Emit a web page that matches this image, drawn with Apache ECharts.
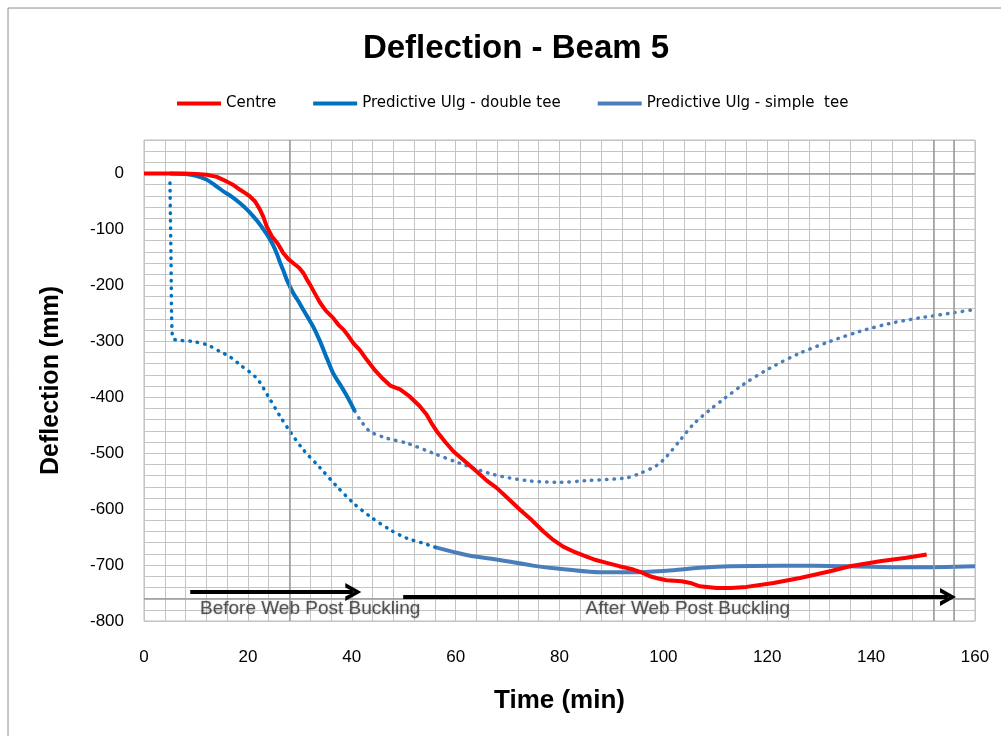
<!DOCTYPE html>
<html><head><meta charset="utf-8">
<script src="https://cdn.jsdelivr.net/npm/echarts@6/dist/echarts.min.js"></script>
<style>html,body{margin:0;padding:0;background:#fff}#c{width:1001px;height:736px}</style>
</head><body><div id="c"></div>
<script>
// ---- data (time in min, deflection in mm) ----
const centre = [[0,0],[7.6,0],[10,-1],[12.1,-2],[14,-6],[15.9,-14],[17.3,-21],[18.5,-29],[19.5,-35],[20.4,-41],[21.4,-50],[22.3,-64],[23.0,-78],[23.6,-94],[24.6,-112],[25.8,-126],[26.8,-142],[27.8,-153],[28.7,-160],[29.8,-168],[30.7,-178],[31.4,-190],[32.0,-199],[33.0,-216],[33.9,-231],[35.0,-245],[36.4,-258],[37.4,-270],[38.4,-279],[39.4,-291],[40.3,-303],[41.6,-316],[42.9,-333],[44.5,-352],[46.0,-367],[47.4,-379],[49.3,-386],[51.2,-399],[53.1,-416],[54.4,-431],[55.4,-447],[56.4,-461],[58.0,-480],[59.6,-497],[62.0,-516],[64.1,-533],[66.0,-549],[67.9,-562],[70.0,-580],[72.4,-601],[74.7,-620],[76.9,-640],[78.8,-655],[80.7,-667],[83.0,-677],[85.2,-685],[87.0,-691],[89.1,-696],[91.5,-702],[94.2,-708],[95.8,-713],[97.4,-720],[99.0,-724],[100.6,-727],[103.5,-729],[105.2,-732],[107.0,-738],[110.3,-741],[113.0,-741],[116.0,-739],[121.2,-732],[126.3,-723],[132.1,-711],[135.9,-702],[141.7,-693],[146.8,-687],[150.7,-681]];
const doubleTee = [[5,0],[8,-1],[10,-4],[12.1,-11],[13.7,-21],[15.3,-32],[17,-42],[18.5,-53],[19.8,-64],[21.0,-76],[22.0,-87],[23.0,-100],[24.0,-114],[24.9,-129],[25.6,-144],[26.2,-159],[26.9,-175],[27.5,-190],[28.7,-213],[29.7,-228],[30.7,-244],[31.6,-258],[32.6,-274],[33.9,-300],[35.2,-330],[36.4,-357],[37.4,-372],[38.4,-387],[39.5,-405],[40.6,-425]];
const doubleTeeDotted = [[40.6,-425],[41.6,-440],[43.5,-461],[46.7,-473],[50.6,-482],[55.7,-500],[60.8,-518],[67.3,-538],[73.7,-549],[80.1,-552],[85.2,-549],[92.9,-544],[95.5,-536],[98.7,-522],[100.6,-506],[103.2,-477],[105.8,-448],[109.0,-422],[111.5,-404],[115.4,-377],[120.5,-348],[126.3,-321],[132.1,-300],[137.9,-282],[143.6,-268],[149.4,-258],[155.8,-249],[160,-243]];
const simpleTeeDotted = [[5,-17],[5.2,-150],[5.45,-291],[6.0,-297],[9.2,-300],[12.1,-306],[14.6,-318],[16.6,-328],[18.5,-342],[21.7,-366],[23.9,-398],[26.2,-434],[28.1,-461],[30.7,-494],[33.9,-526],[37.1,-559],[40.3,-589],[43.5,-613],[47.4,-637],[50.6,-652],[53.8,-661],[56,-668]];
const simpleTee = [[56,-668],[62.1,-682],[68.5,-691],[74.9,-701],[81.4,-708],[87.8,-713],[94.2,-713],[100.6,-710],[107.0,-705],[112.8,-702],[122.4,-701],[135.3,-702],[148.1,-704],[160,-702]];
const seriesNames = ['Centre','Predictive Ulg - double tee','Predictive Ulg - simple  tee'];
const arrowBefore = [[8.9,-748],[40.3,-748]];
const arrowAfter = [[49.9,-757],[154.8,-757]];
const annotations = [{text:'Before Web Post Buckling', at:[32.0,-779]},{text:'After Web Post Buckling', at:[104.7,-779]}];
const refX = [28,152,156];
const refY = [0,-760];

const chevron = 'path://M0,20 L10,0 L20,20 L15,20 L10,9 L5,20 Z';
const chart = echarts.init(document.getElementById('c'));
const font = '"Liberation Sans", Arial, sans-serif';
const dotted = (c)=>({color:c,width:3.5,type:[0.5,7],cap:'round'});
chart.setOption({
  animation:false,
  backgroundColor:'#fff',
  title:{text:'Deflection - Beam 5',left:511,textAlign:'center',top:27,textStyle:{fontFamily:font,fontSize:33,fontWeight:'bold',color:'#000'}},
  legend:{data:seriesNames,left:172,top:91,icon:'rect',itemWidth:44,itemHeight:4,itemGap:37,textStyle:{fontFamily:'"DejaVu Sans", sans-serif',fontSize:15,color:'#000'}},
  grid:{left:144,right:26,top:140,bottom:115,show:true,borderColor:'#bdbdbd',borderWidth:1},
  xAxis:{type:'value',min:0,max:160,interval:4,name:'Time (min)',nameLocation:'middle',nameGap:67,
    nameTextStyle:{fontFamily:font,fontSize:26,fontWeight:'bold',color:'#000'},
    axisLine:{show:false},axisTick:{show:false},
    axisLabel:{margin:28,fontFamily:font,fontSize:17,color:'#000',formatter:v=>(v%20===0?String(v):'')},
    splitLine:{show:true,lineStyle:{color:'#c4c4c4',width:1}}},
  yAxis:{type:'value',min:-800,max:60,interval:20,name:'Deflection (mm)',nameLocation:'middle',nameGap:80,
    nameTextStyle:{fontFamily:font,fontSize:25,fontWeight:'bold',color:'#000'},
    axisLine:{show:false},axisTick:{show:false},
    axisLabel:{margin:20,fontFamily:font,fontSize:17,color:'#000',formatter:v=>(v%100===0&&v<=0?String(v):'')},
    splitLine:{show:true,lineStyle:{color:'#c4c4c4',width:1}}},
  graphic:[{type:'rect',shape:{x:8,y:8,width:1010,height:760},style:{fill:'none',stroke:'#8c8c8c',lineWidth:1},silent:true,z:-10}],
  series:[
    {name:'refs',type:'line',data:[],silent:true,markLine:{silent:true,symbol:'none',label:{show:false},lineStyle:{color:'#9a9a9a',width:1.5,type:'solid'},
      data:refX.map(x=>({xAxis:x})).concat(refY.map(y=>({yAxis:y})))}},
    {name:seriesNames[2],type:'line',data:simpleTee,showSymbol:false,smooth:0.3,color:'#4A7EBB',lineStyle:{color:'#4A7EBB',width:4},z:3},
    {name:'simple-dotted',type:'line',data:simpleTeeDotted,showSymbol:false,smooth:0.3,color:'#0070C0',lineStyle:dotted('#0070C0'),z:3},
    {name:'double-dotted',type:'line',data:doubleTeeDotted,showSymbol:false,smooth:0.3,color:'#4A7EBB',lineStyle:dotted('#4A7EBB'),z:3},
    {name:seriesNames[1],type:'line',data:doubleTee,showSymbol:false,smooth:0.2,color:'#0070C0',lineStyle:{color:'#0070C0',width:4},z:4},
    {name:seriesNames[0],type:'line',data:centre,showSymbol:false,color:'#FF0000',lineStyle:{color:'#FF0000',width:4},z:5},
    {name:'arrows',type:'line',data:[],silent:true,z:6,markLine:{silent:true,symbol:['none',chevron],symbolSize:[18,16],label:{show:false},
      lineStyle:{color:'#000',width:4,type:'solid'},
      data:[[{coord:arrowBefore[0]},{coord:arrowBefore[1]}],[{coord:arrowAfter[0]},{coord:arrowAfter[1]}]]}},
    {name:'notes',type:'scatter',symbolSize:0,silent:true,z:7,
      data:annotations.map(a=>({value:a.at,label:{show:true,formatter:a.text}})),
      label:{show:true,position:'inside',fontFamily:font,fontSize:19,color:'#333',textShadowColor:'rgba(0,0,0,0.35)',textShadowBlur:2}}
  ]
});
</script></body></html>
